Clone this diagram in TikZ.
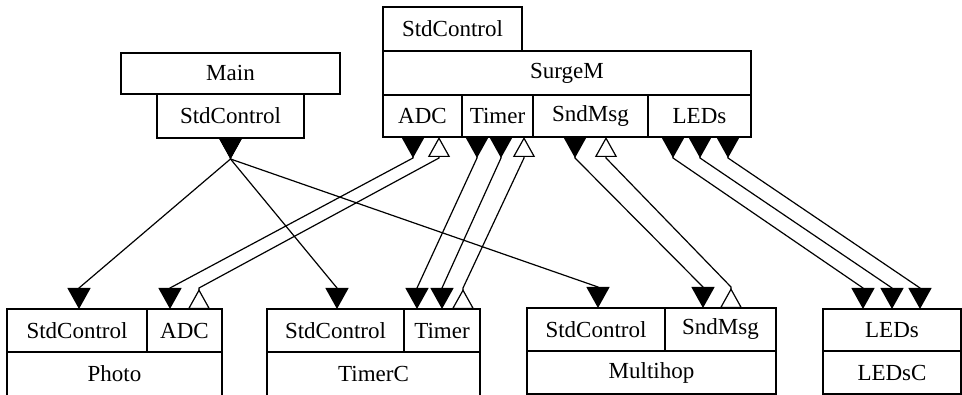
\documentclass[tikz,border=0pt]{standalone}
\usepackage{fontspec}
\setmainfont{Liberation Serif}
\usetikzlibrary{arrows.meta,calc}
\begin{document}
\begin{tikzpicture}[x=1pt,y=-1pt,
  box/.style={draw,line width=1.3pt,inner sep=0pt,outer sep=0pt,anchor=north west,
    font=\fontsize{23}{26}\selectfont},
  cmd/.style={line width=1.2pt,
    {Triangle[reversed,length=21pt,width=23pt]}-{Triangle[length=21pt,width=23pt]}},
  evt/.style={line width=1.2pt,
    {Triangle[reversed,length=20pt,width=22pt,fill=white]}-{Triangle[length=20pt,width=22pt,fill=white]}},
]
\useasboundingbox (0,0) rectangle (962,395);
\clip (0,0) rectangle (962,395);

% Main
\node[box,minimum width=219pt,minimum height=41pt] (main) at (121,53) {Main};
\node[box,minimum width=147pt,minimum height=44pt] (mainsc) at (157,94) {StdControl};

% SurgeM
\node[box,minimum width=139pt,minimum height=44pt] (surgesc) at (383,7) {StdControl};
\node[box,minimum width=368pt,minimum height=44pt] (surge) at (383,51) {SurgeM};
\node[box,minimum width=79pt,minimum height=42pt] (sadc) at (383,95) {ADC};
\node[box,minimum width=71pt,minimum height=42pt] (stimer) at (462,95) {Timer};
\node[box,minimum width=115pt,minimum height=42pt] (ssnd) at (533,95) {SndMsg};
\node[box,minimum width=103pt,minimum height=42pt] (sleds) at (648,95) {LEDs};

% Photo
\node[box,minimum width=140pt,minimum height=43pt] (psc) at (7,309) {StdControl};
\node[box,minimum width=75pt,minimum height=43pt] (padc) at (147,309) {ADC};
\node[box,minimum width=215pt,minimum height=44pt] (photo) at (7,352) {Photo};

% TimerC
\node[box,minimum width=137pt,minimum height=43pt] (tsc) at (267,309) {StdControl};
\node[box,minimum width=76pt,minimum height=43pt] (ttimer) at (404,309) {Timer};
\node[box,minimum width=213pt,minimum height=44pt] (timerc) at (267,352) {TimerC};

% Multihop
\node[box,minimum width=138pt,minimum height=43pt] (msc) at (527,308) {StdControl};
\node[box,minimum width=111pt,minimum height=43pt] (msnd) at (665,308) {SndMsg};
\node[box,minimum width=249pt,minimum height=43pt] (multihop) at (527,351) {Multihop};

% LEDsC
\node[box,minimum width=138pt,minimum height=42pt] (leds) at (823,309) {LEDs};
\node[box,minimum width=138pt,minimum height=43pt] (ledsc) at (823,351) {LEDsC};

% commands (filled)
\draw[cmd] (mainsc.south) -- ++(0,21) -- ($(psc.north west)+(72,-21)$) -- ++(0,21);
\draw[cmd] (mainsc.south) -- ++(0,21) -- ($(tsc.north west)+(70,-21)$) -- ++(0,21);
\draw[cmd] (mainsc.south) -- ++(0,21) -- ($(msc.north west)+(71,-21)$) -- ++(0,21);
\draw[cmd] ($(sadc.south west)+(30,0)$) -- ++(0,21) -- ($(padc.north west)+(23,-21)$) -- ++(0,21);
\draw[cmd] ($(stimer.south west)+(15,0)$) -- ++(0,21) -- ($(ttimer.north west)+(13,-21)$) -- ++(0,21);
\draw[cmd] ($(stimer.south west)+(39,0)$) -- ++(0,21) -- ($(ttimer.north west)+(38,-21)$) -- ++(0,21);
\draw[cmd] ($(ssnd.south west)+(42,0)$) -- ++(0,21) -- ($(msnd.north west)+(38,-21)$) -- ++(0,21);
\draw[cmd] ($(sleds.south west)+(25,0)$) -- ++(0,21) -- ($(leds.north west)+(40,-21)$) -- ++(0,21);
\draw[cmd] ($(sleds.south west)+(52,0)$) -- ++(0,21) -- ($(leds.north west)+(69,-21)$) -- ++(0,21);
\draw[cmd] ($(sleds.south west)+(80,0)$) -- ++(0,21) -- ($(leds.north west)+(97,-21)$) -- ++(0,21);

% events (hollow)
\draw[evt] ($(padc.north west)+(52,0)$) -- ++(0,-21) -- ($(sadc.south west)+(56,21)$) -- ++(0,-21);
\draw[evt] ($(ttimer.north west)+(59,0)$) -- ++(0,-21) -- ($(stimer.south west)+(62,21)$) -- ++(0,-21);
\draw[evt] ($(msnd.north west)+(66,0)$) -- ++(0,-21) -- ($(ssnd.south west)+(73,21)$) -- ++(0,-21);
\end{tikzpicture}
\end{document}
